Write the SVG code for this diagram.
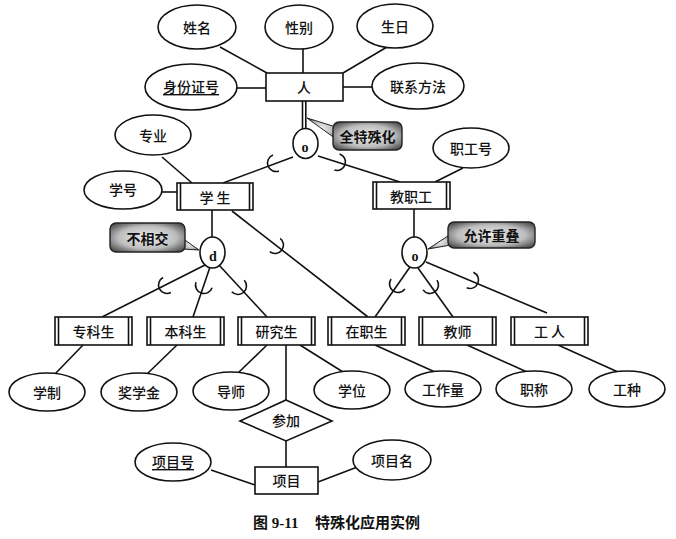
<svg xmlns="http://www.w3.org/2000/svg" width="676" height="539" viewBox="0 0 676 539">
<style>
.ln{stroke:#111;stroke-width:1.6;fill:none}
.sh{stroke:#111;stroke-width:1.6;fill:#fff}
.t{font-family:"Noto Sans CJK SC","Noto Sans",sans-serif;font-size:14px;font-weight:500;fill:#111;text-anchor:middle;dominant-baseline:central}
.l{font-family:"Liberation Serif",serif;font-weight:bold;font-size:14px;fill:#111;text-anchor:middle;dominant-baseline:central}
.co{stroke:#222;stroke-width:1.4;fill:url(#cg)}
.ct{font-family:"Noto Sans CJK SC",sans-serif;font-size:14px;font-weight:bold;fill:#111;text-anchor:middle;dominant-baseline:central}
.u{text-decoration:underline}
.cap{font-family:"Liberation Serif","Noto Sans CJK SC",serif;font-weight:bold;font-size:15px;fill:#111}
</style>
<defs>
<radialGradient id="cg" cx="50%" cy="50%" r="65%">
<stop offset="0" stop-color="#ededed"/>
<stop offset="0.6" stop-color="#bdbdbd"/>
<stop offset="1" stop-color="#464646"/>
</radialGradient>
<path id="sub" d="M0,-8.5 A8.5,8.5 0 0 1 0,8.5" class="ln"/>
</defs>
<rect width="676" height="539" fill="#fff"/>

<g id="connectors">
<line class="ln" x1="220" y1="47" x2="267" y2="73"/>
<line class="ln" x1="303" y1="49" x2="303" y2="73"/>
<line class="ln" x1="387" y1="47" x2="343" y2="73"/>
<line class="ln" x1="237" y1="88" x2="266" y2="88"/>
<line class="ln" x1="343" y1="87" x2="372" y2="87"/>
<line class="ln" x1="302.5" y1="101" x2="302.5" y2="129"/>
<line class="ln" x1="305.8" y1="101" x2="305.8" y2="129"/>
<line class="ln" x1="293" y1="157" x2="223" y2="183"/>
<line class="ln" x1="318" y1="156" x2="400" y2="182"/>
<use href="#sub" transform="translate(276,163) rotate(159.6)"/>
<use href="#sub" transform="translate(337,162) rotate(17.6)"/>
<line class="ln" x1="162" y1="157" x2="192" y2="183"/>
<line class="ln" x1="162" y1="192" x2="177" y2="192"/>
<line class="ln" x1="463" y1="168" x2="435" y2="182"/>
<line class="ln" x1="212" y1="210" x2="212" y2="237"/>
<line class="ln" x1="414" y1="209" x2="414" y2="237"/>
<line class="ln" x1="232" y1="211" x2="368" y2="317"/>
<use href="#sub" transform="translate(275,245) rotate(37.9)"/>
<line class="ln" x1="205" y1="265" x2="102" y2="317"/>
<line class="ln" x1="210" y1="267" x2="193" y2="317"/>
<line class="ln" x1="219" y1="265" x2="267" y2="317"/>
<use href="#sub" transform="translate(167,285) rotate(152.8)"/>
<use href="#sub" transform="translate(204,285) rotate(108.4)"/>
<use href="#sub" transform="translate(238,286) rotate(47.3)"/>
<line class="ln" x1="410" y1="267" x2="375" y2="317"/>
<line class="ln" x1="418" y1="268" x2="453" y2="317"/>
<line class="ln" x1="426" y1="262" x2="547" y2="313"/>
<use href="#sub" transform="translate(398,284) rotate(125.5)"/>
<use href="#sub" transform="translate(430,285) rotate(55)"/>
<use href="#sub" transform="translate(470,280) rotate(22.9)"/>
<line class="ln" x1="83" y1="345" x2="55" y2="374"/>
<line class="ln" x1="177" y1="345" x2="147" y2="374"/>
<line class="ln" x1="267" y1="345" x2="238" y2="373"/>
<line class="ln" x1="300" y1="345" x2="343" y2="372"/>
<line class="ln" x1="286" y1="345" x2="286" y2="400"/>
<line class="ln" x1="375" y1="345" x2="435" y2="372"/>
<line class="ln" x1="467" y1="345" x2="527" y2="372"/>
<line class="ln" x1="558" y1="345" x2="618" y2="372"/>
<line class="ln" x1="286" y1="441" x2="286" y2="467"/>
<line class="ln" x1="211" y1="470" x2="255" y2="485"/>
<line class="ln" x1="318" y1="482" x2="360" y2="466"/>
</g>

<g id="n-xingming"><ellipse class="sh" cx="197" cy="27" rx="39" ry="22"/><text class="t" x="197" y="27">姓名</text></g>
<g id="n-xingbie"><ellipse class="sh" cx="299" cy="27" rx="34" ry="22"/><text class="t" x="299" y="27">性别</text></g>
<g id="n-shengri"><ellipse class="sh" cx="395" cy="26" rx="38" ry="22"/><text class="t" x="395" y="26">生日</text></g>
<g id="n-sfz"><ellipse class="sh" cx="191" cy="87" rx="46" ry="23"/><text class="t u" x="191" y="86">身份证号</text></g>
<g id="n-lxff"><ellipse class="sh" cx="418" cy="86" rx="46" ry="23"/><text class="t" x="418" y="86">联系方法</text></g>
<g id="n-ren"><rect class="sh" x="266" y="73" width="77" height="28"/><text class="t" x="304" y="87">人</text></g>

<g id="n-o1"><ellipse class="sh" cx="305.5" cy="143.5" rx="12.5" ry="15"/><text class="l" x="305" y="147">o</text></g>
<g id="c-qtsh"><polygon class="co" points="307,118 336,127 336,139" style="stroke-width:1"/><rect class="co" x="333" y="122" width="69" height="28" rx="6"/><text class="ct" x="367.5" y="136">全特殊化</text></g>

<g id="n-zhuanye"><ellipse class="sh" cx="153" cy="135" rx="38" ry="20"/><text class="t" x="153" y="135">专业</text></g>
<g id="n-xuehao"><ellipse class="sh" cx="123" cy="190" rx="39" ry="19"/><text class="t" x="123" y="189">学号</text></g>
<g id="n-xuesheng"><rect class="sh" x="177" y="183" width="76" height="27"/><line class="ln" x1="180.5" y1="183" x2="180.5" y2="210"/><line class="ln" x1="249.5" y1="183" x2="249.5" y2="210"/><text class="t" x="215" y="197">学 生</text></g>
<g id="n-zgh"><ellipse class="sh" cx="471" cy="148" rx="38" ry="20"/><text class="t" x="471" y="148">职工号</text></g>
<g id="n-jzg"><rect class="sh" x="373" y="182" width="77" height="27"/><line class="ln" x1="376.5" y1="182" x2="376.5" y2="209"/><line class="ln" x1="446.5" y1="182" x2="446.5" y2="209"/><text class="t" x="411" y="196">教职工</text></g>

<g id="n-d"><ellipse class="sh" cx="212.5" cy="252.5" rx="12.5" ry="15.5"/><text class="l" x="213" y="256">d</text></g>
<g id="c-bxj"><polygon class="co" points="199,250 182,238 182,249" style="stroke-width:1"/><rect class="co" x="110" y="223" width="75" height="29" rx="6"/><text class="ct" x="147.5" y="238">不相交</text></g>
<g id="n-o2"><ellipse class="sh" cx="414.5" cy="252.5" rx="12.5" ry="15.5"/><text class="l" x="415" y="256">o</text></g>
<g id="c-yxcd"><polygon class="co" points="428,249 451,234 451,245" style="stroke-width:1"/><rect class="co" x="448" y="222" width="87" height="26" rx="6"/><text class="ct" x="491.5" y="235">允许重叠</text></g>

<g id="n-zks"><rect class="sh" x="55" y="317" width="77" height="28"/><line class="ln" x1="58.5" y1="317" x2="58.5" y2="345"/><line class="ln" x1="128.5" y1="317" x2="128.5" y2="345"/><text class="t" x="93.5" y="331">专科生</text></g>
<g id="n-bks"><rect class="sh" x="147" y="317" width="77" height="28"/><line class="ln" x1="150.5" y1="317" x2="150.5" y2="345"/><line class="ln" x1="220.5" y1="317" x2="220.5" y2="345"/><text class="t" x="185.5" y="331">本科生</text></g>
<g id="n-yjs"><rect class="sh" x="238" y="317" width="77" height="28"/><line class="ln" x1="241.5" y1="317" x2="241.5" y2="345"/><line class="ln" x1="311.5" y1="317" x2="311.5" y2="345"/><text class="t" x="276.5" y="331">研究生</text></g>
<g id="n-zzs"><rect class="sh" x="328" y="317" width="77" height="28"/><line class="ln" x1="331.5" y1="317" x2="331.5" y2="345"/><line class="ln" x1="401.5" y1="317" x2="401.5" y2="345"/><text class="t" x="366.5" y="331">在职生</text></g>
<g id="n-js"><rect class="sh" x="419" y="317" width="77" height="28"/><line class="ln" x1="422.5" y1="317" x2="422.5" y2="345"/><line class="ln" x1="492.5" y1="317" x2="492.5" y2="345"/><text class="t" x="457.5" y="331">教师</text></g>
<g id="n-gr"><rect class="sh" x="511" y="317" width="77" height="28"/><line class="ln" x1="514.5" y1="317" x2="514.5" y2="345"/><line class="ln" x1="584.5" y1="317" x2="584.5" y2="345"/><text class="t" x="549.5" y="331">工 人</text></g>

<g id="n-xz"><ellipse class="sh" cx="47" cy="392" rx="38" ry="19"/><text class="t" x="47" y="392">学制</text></g>
<g id="n-jxj"><ellipse class="sh" cx="139" cy="392" rx="38" ry="19"/><text class="t" x="139" y="392">奖学金</text></g>
<g id="n-ds"><ellipse class="sh" cx="231" cy="391" rx="38" ry="19"/><text class="t" x="231" y="391">导师</text></g>
<g id="n-xw"><ellipse class="sh" cx="352" cy="390" rx="38" ry="19"/><text class="t" x="352" y="390">学位</text></g>
<g id="n-gzl"><ellipse class="sh" cx="443" cy="389" rx="38" ry="18"/><text class="t" x="443" y="389">工作量</text></g>
<g id="n-zc"><ellipse class="sh" cx="534" cy="389" rx="38" ry="18"/><text class="t" x="534" y="389">职称</text></g>
<g id="n-gz"><ellipse class="sh" cx="627" cy="389" rx="38" ry="18"/><text class="t" x="627" y="389">工种</text></g>

<g id="n-cj"><polygon class="sh" points="286,400 332,421 286,441 240,421"/><text class="t" x="286" y="420">参加</text></g>
<g id="n-xmh"><ellipse class="sh" cx="173" cy="462" rx="38" ry="19"/><text class="t u" x="173" y="461">项目号</text></g>
<g id="n-xmm"><ellipse class="sh" cx="392" cy="460" rx="39" ry="20"/><text class="t" x="392" y="460">项目名</text></g>
<g id="n-xm"><rect class="sh" x="255" y="467" width="63" height="27"/><text class="t" x="286.5" y="480">项目</text></g>

<text class="cap" x="253" y="528">图 9-11<tspan x="315">特殊化应用实例</tspan></text>
</svg>
